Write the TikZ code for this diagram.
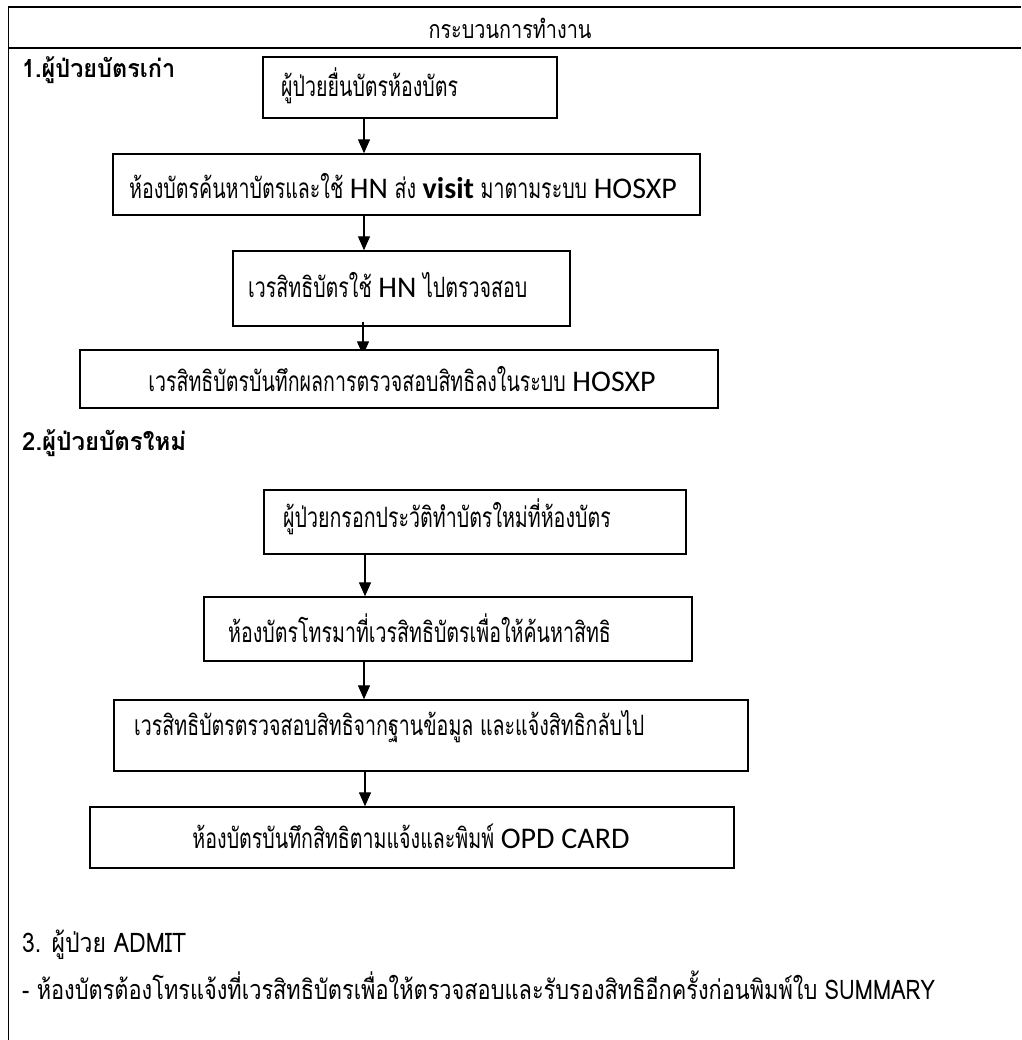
\documentclass[tikz,border=0pt]{standalone}
\usepackage{fontspec}
\usepackage{graphicx}
\usetikzlibrary{arrows.meta,calc}
\newfontfamily\thai[Script=Thai]{Loma}
\newfontfamily\thainarrow[Script=Thai,FakeStretch=0.7]{Loma}
\newfontfamily\latn{Carlito}
\pgfdeclarelayer{front}
\pgfsetlayers{main,front}
% set a line of text to a given width, keeping its height
\newcommand{\fitw}[2]{\resizebox{#1}{\height}{#2}}
\newcommand{\en}[1]{{\latn\fontsize{30}{34}\selectfont #1}}

\tikzset{
  x=1pt, y=-1pt,
  box/.style={draw, line width=1.4pt, fill=white, inner sep=0pt},
  txt/.style={inner sep=0pt, font=\thainarrow\fontsize{28}{32}\selectfont},
  head/.style={inner sep=0pt, font=\thai\bfseries\fontsize{25}{30}\selectfont},
  plain/.style={inner sep=0pt, font=\thai\fontsize{27}{32}\selectfont},
  arr/.style={line width=1.3pt, -{Triangle[width=12pt,length=14pt]}},
}

\begin{document}
\begin{tikzpicture}
\useasboundingbox (0,0) rectangle (1021,1040);

% table frame
\draw[line width=2.5pt] (8,7) -- (1021,7);
\draw[line width=1.2pt] (8,48) -- (1021,48);
\draw[line width=1pt] (8,6) -- (8,1040);

\node[inner sep=0pt, font=\thai\fontsize{25}{30}\selectfont] (title) at (510,28) {\fitw{163pt}{กระบวนการทำงาน}};

% 1. old card patients
\node[head, anchor=west] (sec1) at (22,70) {\fitw{153pt}{1.ผู้ป่วยบัตรเก่า}};

\node[box, minimum width=294pt, minimum height=61pt] (b1) at (410,87.5) {};
\node[box, minimum width=587pt, minimum height=61pt] (b2) at (406.5,184.5) {};
\node[box, minimum width=337pt, minimum height=75pt] (b3) at (401.5,288.5) {};
\begin{pgfonlayer}{front}
\node[box, minimum width=638pt, minimum height=58pt] (b4) at (399,379) {};
\end{pgfonlayer}

\node[txt, anchor=west] (t1) at (281,86) {ผู้ป่วยยื่นบัตรห้องบัตร};
\node[txt, anchor=west] (t2) at (129,186) {ห้องบัตรค้นหาบัตรและใช้ \en{HN} ส่ง \en{\bfseries visit} มาตามระบบ \en{HOSXP}};
\node[txt, anchor=west] (t3) at (248,285) {เวรสิทธิบัตรใช้ \en{HN} ไปตรวจสอบ};
\begin{pgfonlayer}{front}
\node[txt] (t4) at (402,379) {เวรสิทธิบัตรบันทึกผลการตรวจสอบสิทธิลงในระบบ \en{HOSXP}};
\end{pgfonlayer}

% 2. new card patients
\node[head, anchor=west] (sec2) at (22,443) {\fitw{164pt}{2.ผู้ป่วยบัตรใหม่}};

\node[box, minimum width=422pt, minimum height=64pt] (b5) at (475,522) {};
\node[box, minimum width=488pt, minimum height=64pt] (b6) at (448,629) {};
\node[box, minimum width=634pt, minimum height=71pt] (b7) at (431,735.5) {};
\node[box, minimum width=644pt, minimum height=61pt] (b8) at (412,837.5) {};

\node[txt, anchor=west] (t5) at (283,517) {ผู้ป่วยกรอกประวัติทำบัตรใหม่ที่ห้องบัตร};
\node[txt, anchor=west] (t6) at (228,628) {ห้องบัตรโทรมาที่เวรสิทธิบัตรเพื่อให้ค้นหาสิทธิ};
\node[txt, anchor=west] (t7) at (134,727) {เวรสิทธิบัตรตรวจสอบสิทธิจากฐานข้อมูล และแจ้งสิทธิกลับไป};
\node[txt] (t8) at (411,836) {ห้องบัตรบันทึกสิทธิตามแจ้งและพิมพ์ \en{OPD CARD}};

% 3. admitted patients
\node[plain, anchor=west] (sec3) at (22,945) {\fitw{164pt}{3. ผู้ป่วย ADMIT}};
\node[plain, anchor=west] (note) at (22,985) {\fitw{913pt}{- ห้องบัตรต้องโทรแจ้งที่เวรสิทธิบัตรเพื่อให้ตรวจสอบและรับรองสิทธิอีกครั้งก่อนพิมพ์ใบ SUMMARY}};

% connectors
\coordinate (colx) at (364,0);
\draw[arr] (b1.south -| colx) -- (b2.north -| colx);
\draw[arr] (b2.south -| colx) -- (b3.north -| colx);
\draw[arr] ($(b3.south -| colx)+(-1,-5)$) -- ($(b4.north -| colx)+(-1,6)$);
\draw[arr] ($(b5.south -| colx)+(1,0)$) -- ($(b6.north -| colx)+(1,0)$);
\draw[arr] (b6.south -| colx) -- (b7.north -| colx);
\draw[arr] ($(b7.south -| colx)+(1,0)$) -- ($(b8.north -| colx)+(1,0)$);
\end{tikzpicture}
\end{document}
